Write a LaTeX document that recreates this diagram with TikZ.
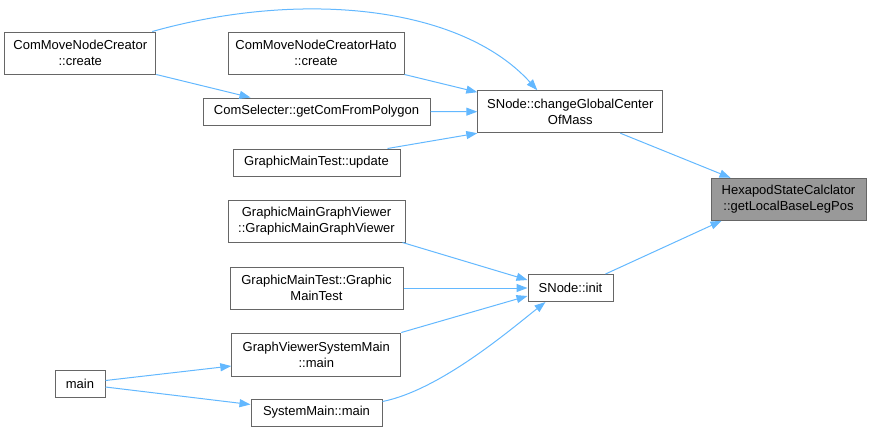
\documentclass[tikz,border=0pt]{standalone}
\usepackage{fontspec}
\setmainfont{Liberation Sans}
\usetikzlibrary{arrows.meta}

\definecolor{edgeblue}{HTML}{63B8FF}
\definecolor{boxgray}{HTML}{666666}
\definecolor{hexgray}{HTML}{999999}

\begin{document}
\begin{tikzpicture}[x=1pt,y=-1pt]

    \tikzstyle{func}+=[
        draw=boxgray,
        line width = 1pt,
        fill=white,
        inner sep=0pt,
        align=center,
        font=\fontsize{13}{16}\selectfont
    ]
    \tikzstyle{twoline}+=[
        func,
        minimum height=42pt
    ]
    \tikzstyle{oneline}+=[
        func,
        minimum height=27pt
    ]
    \tikzstyle{edge}+=[
        -{Triangle[length=11pt,width=8pt]},
        draw=edgeblue,
        line width = 1pt
    ]

    \useasboundingbox (0,0) rectangle (871,432);

    % ----------------------------------------------------------------------------
    \node[twoline,minimum width=151pt] (cmnc) at (80.3,53) {ComMoveNodeCreator\\::create};
    \node[twoline,minimum width=176pt] (hato) at (316,53) {ComMoveNodeCreatorHato\\::create};
    \node[oneline,minimum width=227pt] (sel) at (316.5,111.5) {ComSelecter::getComFromPolygon};
    \node[oneline,minimum width=167pt] (update) at (316.5,162.5) {GraphicMainTest::update};
    \node[twoline,minimum width=185pt] (change) at (570.3,111.7) {SNode::changeGlobalCenter\\OfMass};
    \node[twoline,minimum width=155pt,fill=hexgray] (hex) at (788.5,199.3) {HexapodStateCalclator\\::getLocalBaseLegPos};

    % ----------------------------------------------------------------------------
    \node[twoline,minimum width=177pt] (gmgv) at (316.5,221) {GraphicMainGraphViewer\\::GraphicMainGraphViewer};
    \node[twoline,minimum width=173pt] (gmt) at (316.5,288) {GraphicMainTest::Graphic\\MainTest};
    \node[oneline,minimum width=85pt] (init) at (570.5,288) {SNode::init};
    \node[twoline,minimum width=169pt,minimum height=43pt] (gvsm) at (316.3,354.5) {GraphViewerSystemMain\\::main};
    \node[oneline,minimum width=50pt] (main) at (80,383.5) {main};
    \node[oneline,minimum width=131pt] (smain) at (316.5,412.5) {SystemMain::main};

    % ----------------------------------------------------------------------------
    \draw[edge] ([xshift=72pt]cmnc.north) .. controls (300,-10) and (460,5) .. ([xshift=-33pt]change.north);
    \draw[edge] (cmnc.south east) -- ([xshift=-66pt]sel.north);
    \draw[edge] (hato.south east) -- ([yshift=-2pt]change.north west);
    \draw[edge] (sel.east) -- (change.west);
    \draw[edge] ([xshift=71pt]update.north) -- (change.south west);

    % ----------------------------------------------------------------------------
    \draw[edge] ([xshift=50pt]change.south) -- ([xshift=20pt]hex.north west);
    \draw[edge] ([xshift=35pt]init.north) -- ([xshift=11pt]hex.south west);

    % ----------------------------------------------------------------------------
    \draw[edge] ([xshift=-3pt]gmgv.south east) -- ([yshift=8pt]init.west);
    \draw[edge] (gmt.east) -- (init.west);
    \draw[edge] (gvsm.north east) -- ([yshift=-8pt]init.west);
    \draw[edge] ([yshift=-3pt]smain.north east) .. controls (440,390) and (510,330) .. ([xshift=-25pt]init.south);

    % ----------------------------------------------------------------------------
    \draw[edge] ([yshift=3pt]main.east) -- ([yshift=-11.5pt]gvsm.west);
    \draw[edge] ([yshift=-3.5pt]main.east) -- ([yshift=8pt]smain.west);

\end{tikzpicture}
\end{document}
